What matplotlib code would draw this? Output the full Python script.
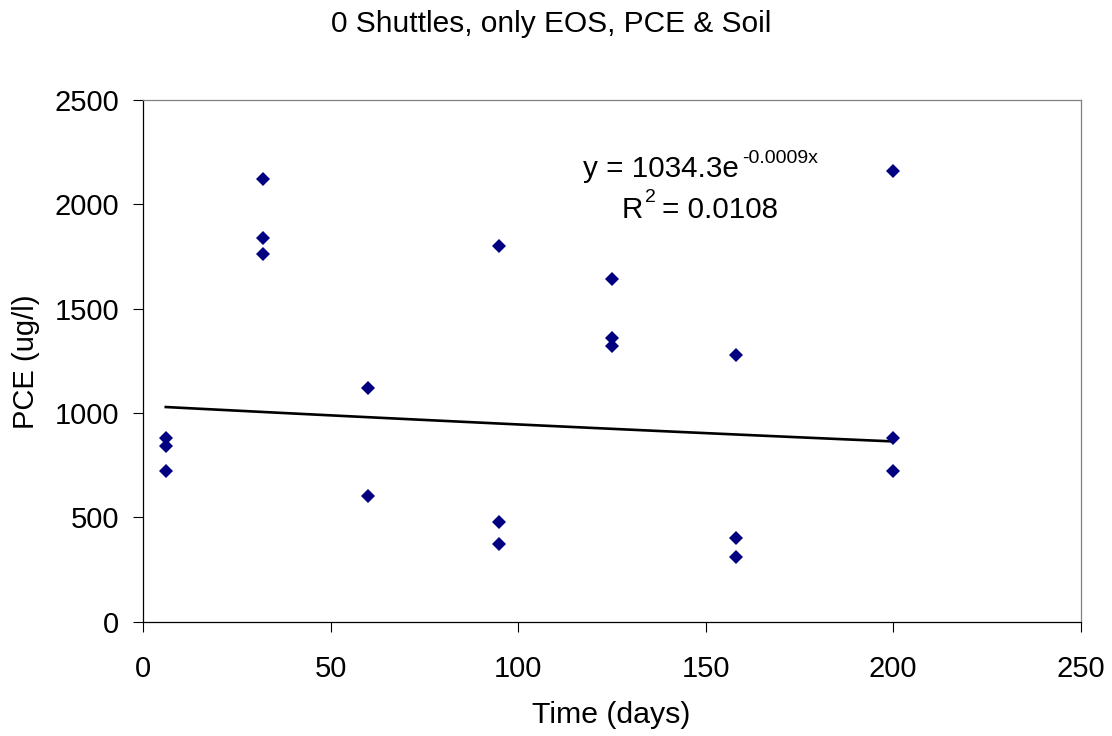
import numpy as np
import matplotlib
matplotlib.use("Agg")
import matplotlib.pyplot as plt

# measured PCE concentrations per sampling day
days = [6, 6, 6, 32, 32, 32, 60, 60, 95, 95, 95, 125, 125, 125, 158, 158, 158, 200, 200, 200]
pce = [880, 840, 720, 2120, 1840, 1760, 1120, 600, 1800, 480, 370, 1640, 1360, 1320, 1280, 400, 310, 2160, 880, 720]

# exponential trendline y = a*e^(b*x) as shown on the chart
trend_a = 1034.3
trend_b = -0.0009

x_ticks = [0, 50, 100, 150, 200, 250]
y_ticks = [0, 500, 1000, 1500, 2000, 2500]

title = "0 Shuttles, only EOS, PCE & Soil"
x_label = "Time (days)"
y_label = "PCE (ug/l)"

plt.rcParams["font.family"] = ["Liberation Sans", "DejaVu Sans"]

W, H = 1112, 736
fig = plt.figure(figsize=(W / 100, H / 100), dpi=100)
ax = fig.add_axes([143.3 / W, 1 - 621.7 / H, (1080.5 - 143.3) / W, (621.7 - 100) / H])

def fig_xy(px, py):
    #pixel position in the picture -> figure fraction
    return px / W, 1 - py / H

# data points
ax.plot(days, pce, linestyle="none", marker="D", markersize=7.4,
        markeredgewidth=0, color="#000080", zorder=3)

# trendline across the data range
tx = np.linspace(min(days), max(days), 100)
ax.plot(tx, trend_a * np.exp(trend_b * tx), color="black", linewidth=1.9, zorder=2)

ax.set_xlim(0, 250)
ax.set_ylim(0, 2500)
ax.set_xticks(x_ticks)
ax.set_yticks(y_ticks)
ax.tick_params(axis="both", direction="out", length=7, width=0.8, labelsize=21, colors="black")
ax.tick_params(axis="y", pad=10.5)
ax.tick_params(axis="x", pad=17)

for side in ["left", "bottom"]:
    ax.spines[side].set_color("black")
    ax.spines[side].set_linewidth(0.9)
for side in ["top", "right"]:
    ax.spines[side].set_color("#808080")
    ax.spines[side].set_linewidth(0.9)

# title and axis labels
fig.text(*fig_xy(551, 31.5), title, fontsize=21.5, ha="center", va="baseline")
fig.text(*fig_xy(611.6, 723.3), x_label, fontsize=21.8, ha="center", va="baseline")
fig.text(*fig_xy(25.5, 361.5), y_label, fontsize=21, ha="center", va="center", rotation=90)

# trendline equation
fig.text(*fig_xy(583, 177.3), "y = 1034.3e", fontsize=21.3, va="baseline")
fig.text(*fig_xy(742, 162.7), "-0.0009x", fontsize=14, va="baseline")
fig.text(*fig_xy(621.7, 217.7), "R", fontsize=21.3, va="baseline")
fig.text(*fig_xy(645, 201.7), "2", fontsize=14, va="baseline")
fig.text(*fig_xy(662, 217.7), "= 0.0108", fontsize=21.3, va="baseline")

fig.savefig("out.png", dpi=100)
